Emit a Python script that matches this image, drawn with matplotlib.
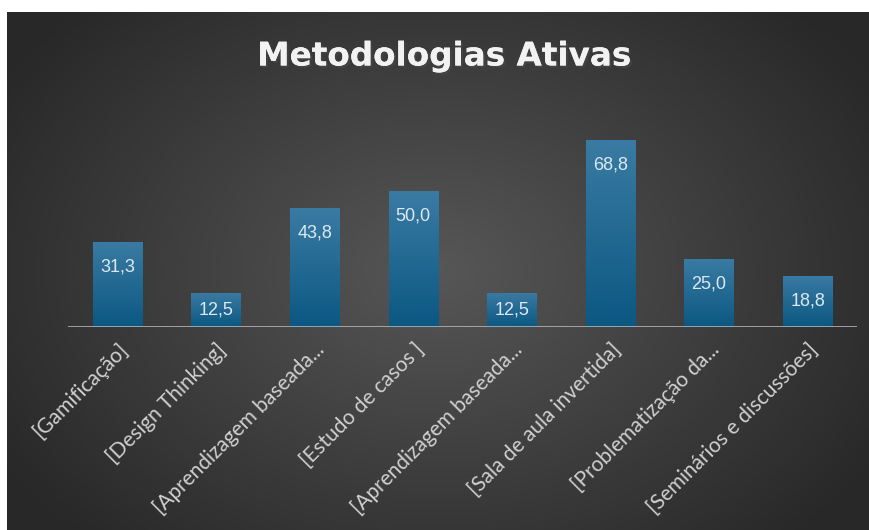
import numpy as np
import matplotlib
matplotlib.use('Agg')
import matplotlib.pyplot as plt
import matplotlib.patheffects as pe

categories = ['[Gamificação]', '[Design Thinking]', '[Aprendizagem baseada...',
              '[Estudo de casos ]', '[Aprendizagem baseada...',
              '[Sala de aula invertida]', '[Problematização da...',
              '[Seminários e discussões]']
values = [31.3, 12.5, 43.8, 50.0, 12.5, 68.8, 25.0, 18.8]
labels = ['31,3', '12,5', '43,8', '50,0', '12,5', '68,8', '25,0', '18,8']

W, H = 869, 530
fig = plt.figure(figsize=(W/100, H/100), dpi=100)
fig.patch.set_facecolor('white')

# dark radial background
bg = fig.add_axes([7/W, 0, 1-7/W, 1-12/H])
bg.set_axis_off()
yy, xx = np.mgrid[0:1:300j, 0:1:500j]
r = np.sqrt(((xx-0.5)/0.62)**2 + ((yy-0.5)/0.75)**2)
shade = np.clip(0.34 - 0.19*r, 0.16, 0.34)
bg.imshow(np.dstack([shade, shade, shade]), aspect='auto', extent=[0, 1, 0, 1])

fig.text(444/W, 1-56/H, 'Metodologias Ativas', ha='center', va='center',
         color='#f2f2f2', fontsize=23.5, fontweight='bold',
         family='DejaVu Sans',
         path_effects=[pe.withSimplePatchShadow(offset=(1.5, -1.5), alpha=0.6), pe.Normal()])

ax = fig.add_axes([68/W, 1-327/H, 789/W, 218/H])
ax.patch.set_alpha(0)
x = np.arange(len(values))
bars = ax.bar(x, values, width=0.5, color='#1a6690', zorder=2)
grad = np.linspace(0, 1, 100).reshape(-1, 1)
top_c = np.array([0x3a, 0x7b, 0xa3])/255
bot_c = np.array([0x0b, 0x58, 0x82])/255
img = top_c*(1-grad[..., None]) + bot_c*grad[..., None]
img = img.reshape(100, 1, 3)
for b in bars:
    bx, bw, bh = b.get_x(), b.get_width(), b.get_height()
    im = ax.imshow(img, extent=[bx, bx+bw, 0, bh], aspect='auto', zorder=3)
    im.set_clip_path(b)

ax.set_xlim(-0.5, len(values)-0.5)
ax.set_ylim(0, 80)
ax.axhline(0, color='#bfbfbf', lw=1.8, zorder=4)
for i, v in enumerate(values):
    ypos = v - 9.2 if v > 20 else v/2
    ax.text(i, ypos, labels[i], ha='center', va='center', color='#dde8f2',
            fontsize=13, family='Liberation Sans', zorder=5)

for s in ax.spines.values():
    s.set_visible(False)
ax.set_yticks([])
ax.set_xticks(x)
ax.set_xticklabels(categories, rotation=45, ha='right', rotation_mode='anchor',
                   color='#d0d0d0', fontsize=15, family='Lato')
ax.tick_params(axis='x', length=0, pad=9)

fig.savefig('out.png', dpi=100)
